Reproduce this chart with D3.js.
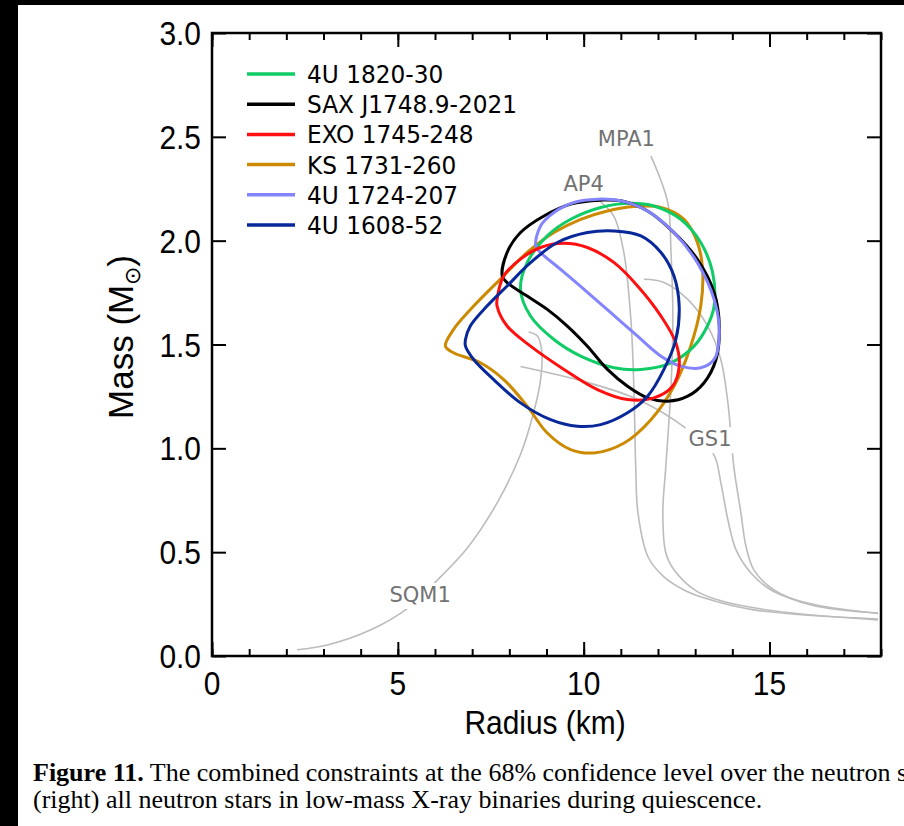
<!DOCTYPE html>
<html>
<head>
<meta charset="utf-8">
<script src="https://cdn.jsdelivr.net/npm/d3@7"></script>
<style>
  body { margin: 0; background: #fff; }
  svg { display: block; }
</style>
</head>
<body>
<div id="chart"></div>
<script>
// ---- data (radius in km, mass in solar masses) ----
var sourceNames = ["4U 1820-30", "SAX J1748.9-2021", "EXO 1745-248", "KS 1731-260", "4U 1724-207", "4U 1608-52"];
var sourceColors = ["#10cc66", "#000000", "#ff1010", "#cc8a00", "#8484ff", "#08289a"];

var contour_4U1820 = [[8.30,1.766],[8.48,1.894],[9.02,2.023],[9.65,2.103],[10.46,2.160],[11.27,2.180],[11.89,2.167],[12.61,2.103],[13.15,1.991],[13.47,1.846],[13.51,1.685],[13.33,1.589],[12.97,1.492],[12.35,1.412],[11.54,1.380],[10.82,1.388],[9.92,1.444],[9.20,1.524],[8.57,1.637]];
var contour_SAX = [[7.81,1.830],[7.94,1.943],[8.30,2.039],[8.93,2.119],[9.65,2.176],[10.46,2.195],[11.00,2.192],[11.72,2.143],[12.43,2.039],[13.06,1.910],[13.51,1.750],[13.65,1.589],[13.56,1.428],[13.24,1.316],[12.80,1.251],[12.26,1.227],[11.72,1.243],[11.18,1.299],[10.64,1.380],[10.10,1.492],[9.56,1.589],[9.02,1.669],[8.48,1.733],[7.94,1.798]];
var contour_EXO = [[7.67,1.717],[7.85,1.830],[8.30,1.911],[8.84,1.967],[9.47,1.987],[10.10,1.967],[10.82,1.894],[11.45,1.782],[12.08,1.637],[12.48,1.508],[12.57,1.396],[12.39,1.299],[11.89,1.243],[11.18,1.235],[10.37,1.283],[9.47,1.380],[8.57,1.492],[7.94,1.589],[7.67,1.685]];
var contour_KS = [[6.28,1.492],[6.50,1.573],[7.04,1.685],[7.76,1.815],[8.48,1.943],[9.20,2.039],[9.92,2.103],[10.64,2.143],[11.36,2.164],[12.08,2.160],[12.70,2.103],[13.06,1.991],[13.20,1.862],[13.15,1.685],[12.88,1.492],[12.43,1.299],[11.81,1.138],[11.09,1.026],[10.28,0.978],[9.65,0.994],[9.02,1.074],[8.48,1.203],[7.85,1.331],[7.22,1.412],[6.50,1.460]];
var contour_4U1724 = [[8.71,1.974],[8.84,2.071],[9.20,2.136],[9.74,2.184],[10.37,2.200],[11.00,2.192],[11.72,2.143],[12.43,2.039],[13.06,1.894],[13.51,1.717],[13.65,1.557],[13.51,1.428],[13.15,1.388],[12.61,1.396],[12.08,1.444],[11.45,1.540],[10.73,1.653],[10.01,1.766],[9.38,1.862],[8.84,1.943]];
var contour_4U1608 = [[6.82,1.524],[6.95,1.589],[7.40,1.685],[7.94,1.782],[8.57,1.894],[9.29,1.991],[10.10,2.039],[10.82,2.047],[11.54,2.023],[12.08,1.943],[12.43,1.830],[12.57,1.685],[12.48,1.524],[12.16,1.380],[11.72,1.251],[11.18,1.171],[10.46,1.114],[9.83,1.106],[9.11,1.138],[8.30,1.219],[7.58,1.331],[7.04,1.428],[6.82,1.492]];

// equation-of-state mass-radius curves
var eos_AP4 = [[10.46,2.185],[10.81,2.118],[11.08,1.944],[11.27,1.621],[11.35,1.298],[11.40,0.912],[11.46,0.690],[11.73,0.478],[12.16,0.381],[12.70,0.318],[13.23,0.280],[14.58,0.222],[17.92,0.178]];
var eos_MPA1 = [[11.81,2.407],[12.26,2.185],[12.35,1.944],[12.40,1.621],[12.35,1.298],[12.21,0.912],[12.13,0.690],[12.21,0.497],[12.43,0.415],[13.07,0.309],[14.58,0.232],[17.92,0.174]];
var eos_other = [[11.62,1.814],[12.16,1.799],[12.80,1.717],[13.34,1.587],[13.69,1.428],[13.88,1.220],[14.04,0.912],[14.23,0.690],[14.37,0.526],[14.58,0.415],[15.12,0.318],[16.12,0.246],[17.92,0.207]];
var eos_GS1 = [[8.30,1.394],[10.11,1.317],[11.46,1.235],[12.80,1.090],[13.50,0.970],[13.69,0.835],[13.88,0.656],[14.10,0.511],[14.50,0.400],[15.04,0.318],[15.71,0.270],[16.60,0.235],[17.92,0.205]];
var eos_SQM1 = [[2.29,0.030],[3.10,0.053],[4.26,0.125],[5.28,0.232],[6.15,0.381],[6.87,0.520],[7.68,0.740],[8.30,0.970],[8.65,1.170],[8.84,1.330],[8.87,1.470],[8.76,1.540],[8.52,1.560]];

var eosLabels = [
  {text: "MPA1", r: 11.15, m: 2.455},
  {text: "AP4", r: 10.0, m: 2.24},
  {text: "GS1", r: 13.4, m: 1.01},
  {text: "SQM1", r: 5.6, m: 0.26}
];

var radiusMajor = [0, 5, 10, 15];
var radiusMinor = d3.range(0, 19);
var massTicks = [0, 0.5, 1.0, 1.5, 2.0, 2.5, 3.0];

// ---- layout ----
var W = 904, H = 826;
var svg = d3.select("#chart").append("svg")
    .attr("width", W).attr("height", H);

svg.append("rect").attr("width", W).attr("height", H).attr("fill", "#fff");
// black scan borders
svg.append("rect").attr("x", 0).attr("y", 0).attr("width", W).attr("height", 5).attr("fill", "#000");
svg.append("rect").attr("x", 0).attr("y", 0).attr("width", 18).attr("height", H).attr("fill", "#000");

var x = d3.scaleLinear().domain([0, 18]).range([212, 881]);
var y = d3.scaleLinear().domain([0, 3]).range([656, 33]);

var eosLine = d3.line()
    .x(function(d) { return x(d[0]); })
    .y(function(d) { return y(d[1]); })
    .curve(d3.curveCatmullRom);

var loop = d3.line()
    .x(function(d) { return x(d[0]); })
    .y(function(d) { return y(d[1]); })
    .curve(d3.curveCatmullRomClosed.alpha(0.5));

// gray EoS curves
[eos_AP4, eos_MPA1, eos_other, eos_GS1, eos_SQM1].forEach(function(c) {
  svg.append("path").attr("d", eosLine(c))
     .attr("fill", "none").attr("stroke", "#bcbcbc").attr("stroke-width", 1.6);
});

// EoS labels, with white boxes that break the line under them
eosLabels.forEach(function(l) {
  var t = svg.append("text")
     .attr("x", x(l.r)).attr("y", y(l.m))
     .attr("text-anchor", "middle")
     .attr("font-family", "DejaVu Sans")
     .attr("font-size", "21px")
     .attr("fill", "#727272")
     .text(l.text);
  var b = t.node().getBBox();
  svg.insert("rect", "text")
     .attr("x", b.x - 3).attr("y", b.y).attr("width", b.width + 6).attr("height", b.height + 2)
     .attr("fill", "#fff");
});

// confidence contours
var contours = [contour_KS, contour_4U1820, contour_SAX, contour_4U1724, contour_EXO, contour_4U1608];
var contourColors = [sourceColors[3], sourceColors[0], sourceColors[1], sourceColors[4], sourceColors[2], sourceColors[5]];
contours.forEach(function(c, i) {
  svg.append("path").attr("d", loop(c))
     .attr("fill", "none").attr("stroke", contourColors[i]).attr("stroke-width", 3);
});

// ---- axes: ticks pointing inwards on all four sides ----
function noLabel() { return ""; }
function styleAxis(g) {
  g.select(".domain").remove();
  g.selectAll("line").attr("stroke", "#000").attr("stroke-width", 2);
}
svg.append("g").attr("transform", "translate(0," + y(0) + ")")
   .call(d3.axisBottom(x).tickValues(radiusMinor).tickSize(-7).tickFormat(noLabel)).call(styleAxis);
svg.append("g").attr("transform", "translate(0," + y(0) + ")")
   .call(d3.axisBottom(x).tickValues(radiusMajor).tickSize(-14).tickFormat(noLabel)).call(styleAxis);
svg.append("g").attr("transform", "translate(0," + y(3) + ")")
   .call(d3.axisTop(x).tickValues(radiusMinor).tickSize(-7).tickFormat(noLabel)).call(styleAxis);
svg.append("g").attr("transform", "translate(0," + y(3) + ")")
   .call(d3.axisTop(x).tickValues(radiusMajor).tickSize(-14).tickFormat(noLabel)).call(styleAxis);
svg.append("g").attr("transform", "translate(" + x(0) + ",0)")
   .call(d3.axisLeft(y).tickValues(massTicks).tickSize(-14).tickFormat(noLabel)).call(styleAxis);
svg.append("g").attr("transform", "translate(" + x(18) + ",0)")
   .call(d3.axisRight(y).tickValues(massTicks).tickSize(-14).tickFormat(noLabel)).call(styleAxis);

svg.append("rect")
   .attr("x", x(0)).attr("y", y(3))
   .attr("width", x(18) - x(0)).attr("height", y(0) - y(3))
   .attr("fill", "none").attr("stroke", "#000").attr("stroke-width", 2.5);

// tick labels (narrow sans, like the original)
var sx = 0.88;
radiusMajor.forEach(function(v) {
  svg.append("text")
     .attr("transform", "translate(" + x(v) + "," + (y(0) + 39) + ") scale(" + sx + ",1)")
     .attr("text-anchor", "middle")
     .attr("font-family", "Liberation Sans").attr("font-size", "34px")
     .text(v);
});
massTicks.forEach(function(v) {
  svg.append("text")
     .attr("transform", "translate(" + (x(0) - 11) + "," + (y(v) + 12) + ") scale(" + sx + ",1)")
     .attr("text-anchor", "end")
     .attr("font-family", "Liberation Sans").attr("font-size", "34px")
     .text(d3.format(".1f")(v));
});

// axis titles
svg.append("text")
   .attr("transform", "translate(545,734) scale(" + sx + ",1)")
   .attr("text-anchor", "middle")
   .attr("font-family", "Liberation Sans").attr("font-size", "34px")
   .text("Radius (km)");
var yt = svg.append("text")
   .attr("transform", "translate(133,337) rotate(-90)")
   .attr("text-anchor", "middle")
   .attr("font-family", "Liberation Sans").attr("font-size", "35px");
yt.append("tspan").text("Mass (M");
yt.append("tspan").attr("font-size", "22px").attr("dy", 7).text("\u2299");
yt.append("tspan").attr("dy", -7).text(")");

// legend
var legend = svg.append("g");
sourceNames.forEach(function(name, i) {
  var ly = 74 + i * 30.2;
  legend.append("line")
     .attr("x1", 247).attr("x2", 295).attr("y1", ly).attr("y2", ly)
     .attr("stroke", sourceColors[i]).attr("stroke-width", 3.5);
  legend.append("text")
     .attr("transform", "translate(307," + (ly + 9) + ") scale(0.93,1)")
     .attr("font-family", "DejaVu Sans").attr("font-size", "25px")
     .attr("fill", "#000")
     .text(name);
});

// caption
var cap1 = svg.append("text").attr("x", 33).attr("y", 781)
   .attr("font-family", "Liberation Serif").attr("font-size", "26px");
cap1.append("tspan").attr("font-weight", "bold").text("Figure 11.");
cap1.append("tspan").text(" The combined constraints at the 68% confidence level over the neutron s");
svg.append("text").attr("x", 33).attr("y", 808)
   .attr("font-family", "Liberation Serif").attr("font-size", "26px")
   .text("(right) all neutron stars in low-mass X-ray binaries during quiescence.");
</script>
</body>
</html>
